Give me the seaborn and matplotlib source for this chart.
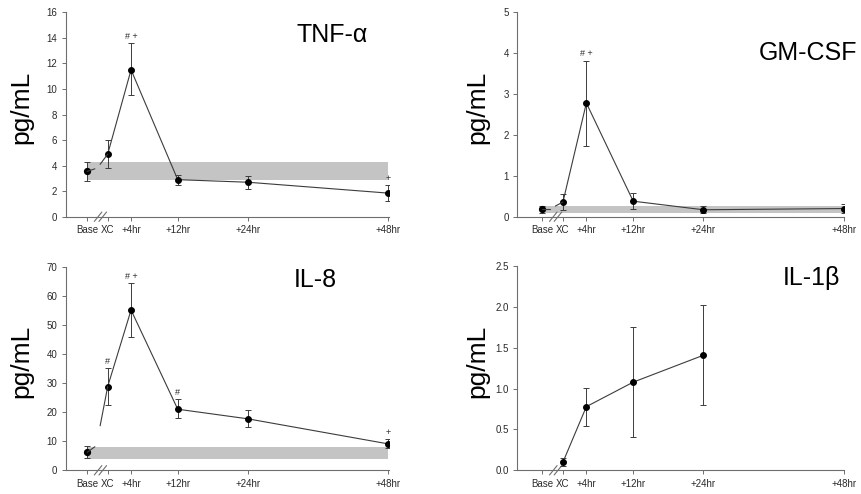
import numpy as np
import pandas as pd
import matplotlib
matplotlib.use('Agg')
import matplotlib.pyplot as plt
import seaborn as sns

# time axis (hours relative to XC; Base sits before the axis break)
x_labels = ['Base', 'XC', '+4hr', '+12hr', '+24hr', '+48hr']
hours = [-3.5, 0, 4, 12, 24, 48]
gap_x = [-2.2, -1.3]   # where the Base->XC line stops / restarts around the break

# TNF-alpha
tnf_mean = [3.55, 4.9, 11.5, 2.9, 2.7, 1.85]
tnf_lo = [2.8, 3.8, 9.5, 2.45, 2.2, 1.2]
tnf_hi = [4.25, 6.0, 13.6, 3.3, 3.2, 2.5]
tnf_band = [2.85, 4.25]
tnf_gap = [3.75, 4.1]
tnf_marks = ['', '', '# +', '', '', '+']

# GM-CSF
gm_mean = [0.18, 0.36, 2.78, 0.38, 0.17, 0.2]
gm_lo = [0.1, 0.17, 1.74, 0.19, 0.1, 0.1]
gm_hi = [0.27, 0.55, 3.82, 0.57, 0.25, 0.32]
gm_band = [0.09, 0.27]
gm_gap = [0.18, 0.26]
gm_marks = ['', '', '# +', '', '', '']

# IL-8
il8_mean = [6.2, 28.8, 55.1, 21.0, 17.7, 9.1]
il8_lo = [4.1, 22.3, 46.0, 17.9, 14.8, 7.5]
il8_hi = [8.3, 35.3, 64.4, 24.4, 20.6, 10.6]
il8_band = [4.0, 8.0]
il8_gap = [8.1, 15.3]
il8_marks = ['', '#', '# +', '#', '', '+']

# IL-1beta (no Base / +48hr values)
il1b_mean = [np.nan, 0.1, 0.78, 1.08, 1.41, np.nan]
il1b_lo = [np.nan, 0.05, 0.54, 0.41, 0.8, np.nan]
il1b_hi = [np.nan, 0.15, 1.01, 1.75, 2.03, np.nan]

sns.set_style('ticks')
plt.rcParams['font.family'] = ['Liberation Sans', 'DejaVu Sans']

line_col = '#3c3c3c'
axis_col = '#6e6e6e'
text_col = '#2a2a2a'

fig = plt.figure(figsize=(8.61, 4.94), dpi=100)


def panel(rect, mean, lo, hi, band, gap, marks, title, title_xy, title_ha, ymax, ystep, yfmt, lab_x, xlim):
    ax = fig.add_axes(rect)
    df = pd.DataFrame({'hr': hours, 'val': mean, 'lo': lo, 'hi': hi})
    df = df.dropna()

    # reference band
    if band is not None:
        ax.fill_between([hours[0], hours[-1]], band[0], band[1], color='#c4c4c4', lw=0, zorder=1)

    # error bars
    ax.errorbar(df['hr'], df['val'], yerr=[df['val'] - df['lo'], df['hi'] - df['val']],
                fmt='none', ecolor=line_col, elinewidth=0.7, capsize=2, capthick=0.7, zorder=3)

    # main line from XC onward
    post = df[df['hr'] >= 0]
    sns.lineplot(data=post, x='hr', y='val', color=line_col, lw=0.8, marker='o',
                 markersize=4.2, markerfacecolor='black', markeredgecolor='black',
                 sort=False, ax=ax, zorder=4)

    # base point with broken connection
    if not np.isnan(mean[0]):
        ax.plot([hours[0]], [mean[0]], 'o', color='black', ms=4.2, zorder=4)
        ax.plot([hours[0], gap_x[0]], [mean[0], gap[0]], color=line_col, lw=0.8, zorder=4)
        ax.plot([gap_x[1], hours[1]], [gap[1], mean[1]], color=line_col, lw=0.8, zorder=4)

    # significance marks
    for h, top, m in zip(hours, hi, marks):
        if m:
            ax.annotate(m, (h, top), xytext=(0, 1.5), textcoords='offset points',
                        ha='center', va='bottom', fontsize=6.5, color=text_col)

    ax.set_xlim(*xlim)
    ax.set_ylim(0, ymax)
    ax.set_yticks(np.arange(0, ymax + ystep / 2, ystep))
    ax.yaxis.set_major_formatter(plt.FormatStrFormatter(yfmt))
    ax.set_xticks(hours)
    ax.set_xticklabels(x_labels)
    ax.set_xlabel('')
    ax.set_ylabel('pg/mL', fontsize=19, color='black')
    ax.yaxis.set_label_coords(lab_x, 0.534)
    ax.tick_params(axis='both', labelsize=7, colors=axis_col, labelcolor=text_col,
                   length=3, width=0.7, pad=3)

    for s in ['top', 'right']:
        ax.spines[s].set_visible(False)
    for s in ['left', 'bottom']:
        ax.spines[s].set_color(axis_col)
        ax.spines[s].set_linewidth(0.8)

    # axis break marks
    tr = ax.get_xaxis_transform()
    for cx in [-1.65, -0.85]:
        ax.plot([cx - 0.65, cx + 0.65], [-0.023, 0.023], color=axis_col, lw=0.8,
                transform=tr, clip_on=False)

    ax.text(title_xy[0], title_xy[1], title, transform=ax.transAxes, fontsize=18,
            ha=title_ha, va='center', color='black')
    return ax


panel([0.0763, 0.5613, 0.3755, 0.4138], tnf_mean, tnf_lo, tnf_hi, tnf_band, tnf_gap, tnf_marks,
      'TNF-\u03b1', (0.825, 0.889), 'center', 16, 2, '%d', -0.100, (-7.2, 48.2))
panel([0.6008, 0.5613, 0.3794, 0.4138], gm_mean, gm_lo, gm_hi, gm_band, gm_gap, gm_marks,
      'GM-CSF', (1.042, 0.80), 'right', 5, 1, '%d', -0.086, (-7.8, 48.0))
panel([0.0763, 0.0480, 0.3755, 0.4121], il8_mean, il8_lo, il8_hi, il8_band, il8_gap, il8_marks,
      'IL-8', (0.771, 0.935), 'center', 70, 10, '%d', -0.100, (-7.2, 48.2))
panel([0.6008, 0.0480, 0.3794, 0.4130], il1b_mean, il1b_lo, il1b_hi, None, None, [''] * 6,
      'IL-1\u03b2', (0.899, 0.943), 'center', 2.5, 0.5, '%.1f', -0.086, (-7.8, 48.0))

fig.savefig('out.png', dpi=100)
